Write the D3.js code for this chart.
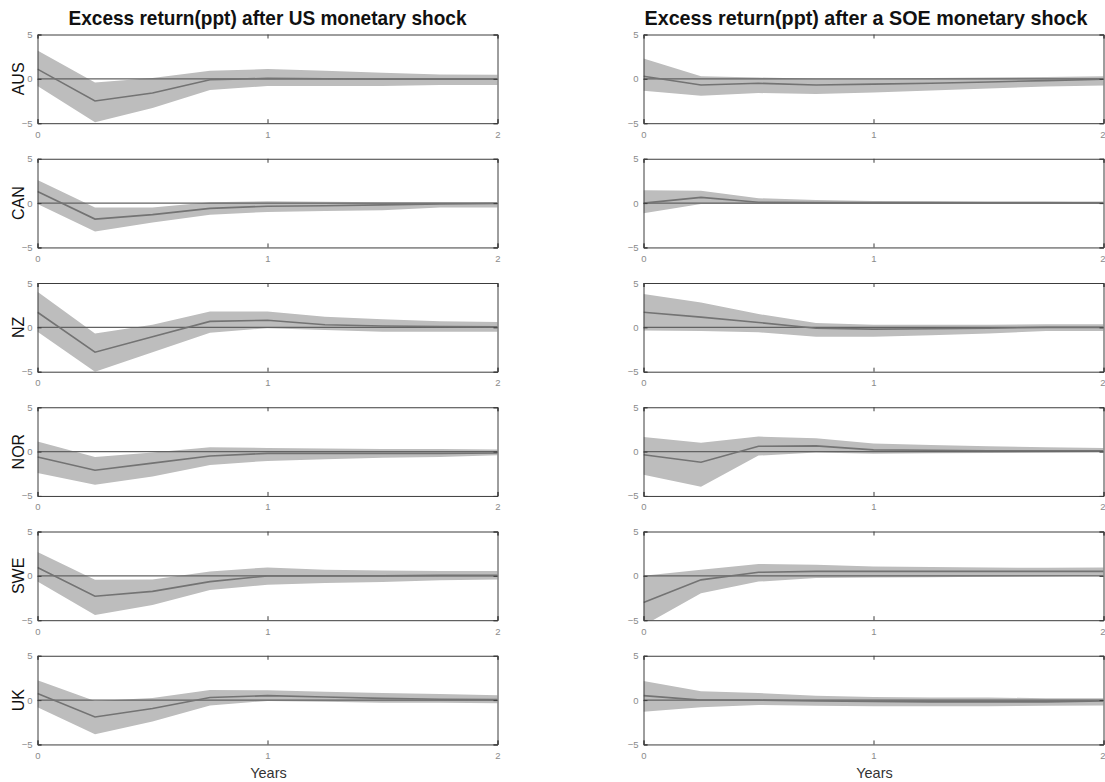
<!DOCTYPE html>
<html>
<head>
<meta charset="utf-8">
<script src="https://cdn.jsdelivr.net/npm/d3@7"></script>
<style>
  html, body { margin: 0; padding: 0; background: #fff; }
  svg { display: block; }
</style>
</head>
<body>
<svg id="chart" width="1105" height="782"></svg>
<script>
// Impulse responses of excess returns (percentage points), quarterly horizons over two years
const horizons = [0, 0.25, 0.5, 0.75, 1, 1.25, 1.5, 1.75, 2];
const countries = ["AUS", "CAN", "NZ", "NOR", "SWE", "UK"];
const columnTitles = [
  "Excess return(ppt) after US monetary shock",
  "Excess return(ppt) after a SOE monetary shock"
];
const yTicks = [-5, 0, 5];
const xTicks = [0, 1, 2];
const xLabel = "Years";

// US monetary shock: point estimate, upper and lower band, one row per country
const usMedian = [
  [1.1, -2.5, -1.6, -0.1, 0.05, 0.0, -0.05, -0.05, -0.05],
  [1.3, -1.8, -1.3, -0.6, -0.35, -0.3, -0.2, -0.1, -0.05],
  [1.7, -2.8, -1.05, 0.67, 0.8, 0.3, 0.15, 0.1, 0.05],
  [-0.6, -2.1, -1.3, -0.5, -0.2, -0.2, -0.2, -0.2, -0.15],
  [0.95, -2.3, -1.75, -0.65, 0.0, 0.0, 0.0, 0.05, 0.05],
  [0.75, -1.9, -0.95, 0.3, 0.5, 0.35, 0.2, 0.1, 0.05]
];
const usUpper = [
  [3.2, -0.4, 0.1, 0.9, 1.1, 0.9, 0.7, 0.5, 0.45],
  [2.6, -0.5, -0.5, 0.1, 0.2, 0.15, 0.1, 0.1, 0.1],
  [4.0, -0.7, 0.3, 1.8, 1.8, 1.2, 0.9, 0.7, 0.6],
  [1.15, -0.6, -0.1, 0.5, 0.4, 0.35, 0.3, 0.3, 0.25],
  [2.7, -0.45, -0.4, 0.5, 0.95, 0.7, 0.6, 0.55, 0.55],
  [2.25, -0.1, 0.25, 1.15, 1.1, 0.95, 0.8, 0.7, 0.55]
];
const usLower = [
  [-0.8, -4.9, -3.3, -1.25, -0.8, -0.8, -0.8, -0.7, -0.7],
  [-0.1, -3.2, -2.2, -1.3, -1.0, -0.9, -0.8, -0.5, -0.5],
  [-0.5, -5.0, -2.8, -0.6, -0.1, -0.3, -0.5, -0.5, -0.5],
  [-2.4, -3.75, -2.8, -1.5, -1.05, -0.85, -0.7, -0.6, -0.4],
  [-0.65, -4.4, -3.3, -1.6, -1.0, -0.8, -0.7, -0.5, -0.4],
  [-0.8, -3.85, -2.4, -0.6, -0.1, -0.2, -0.3, -0.3, -0.35]
];

// Domestic (small open economy) monetary shock
const soeMedian = [
  [0.3, -0.7, -0.5, -0.7, -0.6, -0.5, -0.35, -0.2, -0.05],
  [0.0, 0.65, 0.1, 0.05, 0.05, 0.05, 0.05, 0.05, 0.05],
  [1.7, 1.15, 0.55, -0.1, -0.2, -0.15, -0.1, 0.0, 0.0],
  [-0.35, -1.2, 0.6, 0.65, 0.2, 0.15, 0.1, 0.1, 0.1],
  [-3.0, -0.45, 0.4, 0.5, 0.5, 0.5, 0.5, 0.5, 0.5],
  [0.5, 0.0, 0.0, -0.1, -0.15, -0.2, -0.2, -0.2, -0.1]
];
const soeUpper = [
  [2.3, 0.3, 0.15, 0.0, 0.0, 0.1, 0.15, 0.2, 0.3],
  [1.45, 1.4, 0.55, 0.35, 0.25, 0.2, 0.15, 0.15, 0.1],
  [3.75, 2.8, 1.5, 0.5, 0.3, 0.3, 0.3, 0.35, 0.35],
  [1.65, 1.0, 1.7, 1.5, 0.9, 0.75, 0.6, 0.5, 0.4],
  [0.0, 0.7, 1.35, 1.25, 1.05, 1.0, 0.95, 0.9, 0.95],
  [2.15, 1.0, 0.8, 0.5, 0.35, 0.3, 0.3, 0.2, 0.2]
];
const soeLower = [
  [-1.35, -1.9, -1.6, -1.7, -1.55, -1.3, -1.1, -0.85, -0.75],
  [-1.15, -0.1, -0.1, -0.1, -0.1, -0.1, -0.1, -0.1, -0.1],
  [-0.35, -0.4, -0.55, -1.05, -1.05, -0.9, -0.7, -0.4, -0.4],
  [-2.6, -3.95, -0.45, -0.1, -0.25, -0.2, -0.15, -0.1, -0.05],
  [-5.6, -1.95, -0.65, -0.25, -0.2, -0.15, -0.1, -0.05, 0.0],
  [-1.3, -0.8, -0.55, -0.65, -0.7, -0.7, -0.7, -0.65, -0.6]
];

const columns = [
  { median: usMedian, upper: usUpper, lower: usLower, left: 37.5, showY: true },
  { median: soeMedian, upper: soeUpper, lower: soeLower, left: 643.5, showY: false }
];

const panelW = 460, panelH = 88.7, firstTop = 34.5, rowStep = 124.25;
const pageW = 1105;

const svg = d3.select("#chart");
const defs = svg.append("defs");

columns.forEach((col, ci) => {
  const x = d3.scaleLinear().domain([0, 2]).range([col.left, col.left + panelW]);
  const cx = col.left + panelW / 2;

  // Column title
  svg.append("text")
    .attr("x", ci === 0 ? cx : cx - 7.5)
    .attr("y", 25)
    .attr("text-anchor", "middle")
    .attr("font-family", "'Liberation Sans Narrow', 'Liberation Sans', Arial, sans-serif")
    .attr("font-weight", "bold")
    .attr("font-size", 20.5)
    .attr("textLength", ci === 0 ? 398 : 443)
    .attr("lengthAdjust", "spacingAndGlyphs")
    .attr("fill", "#111")
    .text(columnTitles[ci]);

  countries.forEach((name, ri) => {
    const top = firstTop + ri * rowStep;
    const y = d3.scaleLinear().domain([-5, 5]).range([top + panelH, top]);
    const g = svg.append("g");

    const clipId = `clip-${ci}-${ri}`;
    defs.append("clipPath").attr("id", clipId)
      .append("rect")
      .attr("x", col.left).attr("y", top)
      .attr("width", panelW).attr("height", panelH);

    const plot = g.append("g").attr("clip-path", `url(#${clipId})`);

    const pts = horizons.map((h, k) => ({
      h, m: col.median[ri][k], hi: col.upper[ri][k], lo: col.lower[ri][k]
    }));

    // Confidence band
    plot.append("path")
      .datum(pts)
      .attr("fill", "#bdbdbd")
      .attr("d", d3.area().x(d => x(d.h)).y0(d => y(d.lo)).y1(d => y(d.hi)));

    // Zero reference line
    plot.append("line")
      .attr("x1", x(0)).attr("x2", x(2))
      .attr("y1", y(0)).attr("y2", y(0))
      .attr("stroke", "#626262").attr("stroke-width", 1.4);

    // Point estimate
    plot.append("path")
      .datum(pts)
      .attr("fill", "none")
      .attr("stroke", "#737373")
      .attr("stroke-width", 1.6)
      .attr("d", d3.line().x(d => x(d.h)).y(d => y(d.m)));

    // Axes with inward ticks
    const axB = d3.axisBottom(x).tickValues(xTicks).tickSize(-4).tickPadding(6).tickFormat(d3.format("d"));
    const axT = d3.axisTop(x).tickValues(xTicks).tickSize(-4).tickFormat("");
    const axL = d3.axisLeft(y).tickValues(yTicks).tickSize(-4).tickPadding(5).tickFormat(d3.format("d"));
    const axR = d3.axisRight(y).tickValues(yTicks).tickSize(-4).tickFormat("");

    const styleAxis = sel => {
      sel.selectAll(".domain").attr("stroke", "#3c3c3c").attr("stroke-width", 1);
      sel.selectAll(".tick line").attr("stroke", "#3c3c3c");
      sel.selectAll(".tick text")
        .attr("fill", "#8a8a8a")
        .attr("font-family", "'Liberation Sans', Arial, sans-serif")
        .attr("font-size", 9.5);
    };

    const bottomTexts = g.append("g").attr("transform", `translate(0,${top + panelH})`)
      .call(axB).call(styleAxis)
      .selectAll(".tick text").attr("dy", "0.9em");
    // Keep the last tick label inside the page when the panel reaches the edge
    bottomTexts.filter(d => x(d) + 4 > pageW).attr("text-anchor", "end").attr("dx", 1.5);

    g.append("g").attr("transform", `translate(0,${top})`).call(axT).call(styleAxis);
    g.append("g").attr("transform", `translate(${col.left},0)`).call(axL).call(styleAxis);
    g.append("g").attr("transform", `translate(${col.left + panelW},0)`).call(axR).call(styleAxis);

    // Country label
    if (col.showY) {
      g.append("text")
        .attr("transform", `translate(23.5,${top + panelH / 2}) rotate(-90)`)
        .attr("text-anchor", "middle")
        .attr("font-family", "'Liberation Sans', Arial, sans-serif")
        .attr("font-size", 16)
        .attr("fill", "#111")
        .text(name);
    }

    if (ri === countries.length - 1) {
      g.append("text")
        .attr("x", cx + 1)
        .attr("y", 778)
        .attr("text-anchor", "middle")
        .attr("font-family", "'Liberation Sans', Arial, sans-serif")
        .attr("font-size", 14.5)
        .attr("fill", "#333")
        .text(xLabel);
    }
  });
});
</script>
</body>
</html>
